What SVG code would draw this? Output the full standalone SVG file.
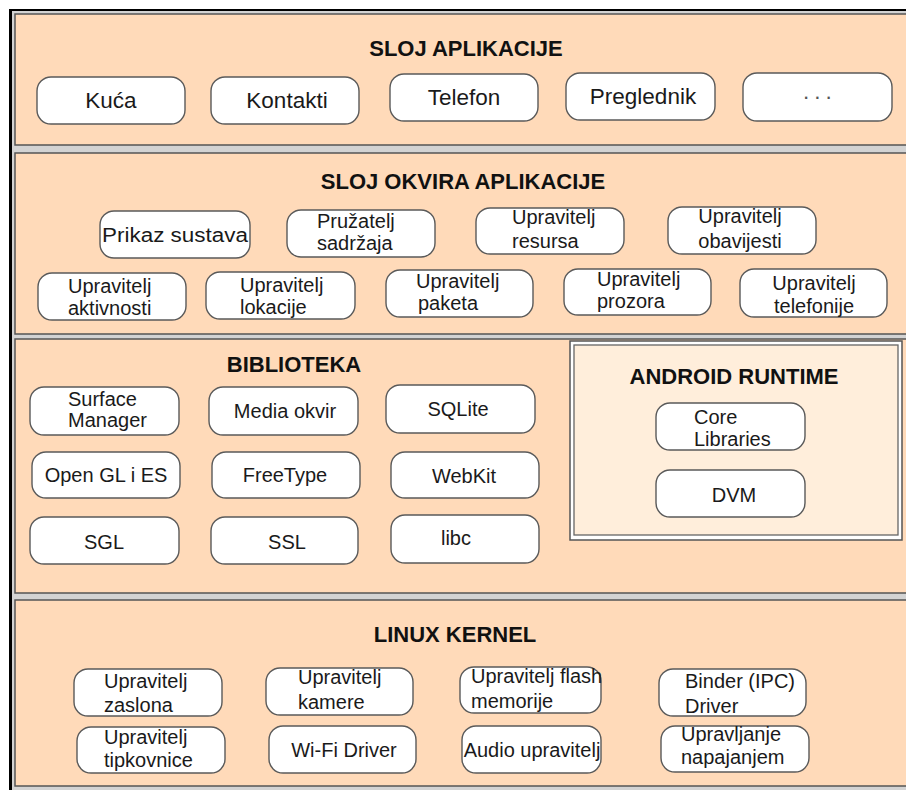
<svg xmlns="http://www.w3.org/2000/svg" width="906" height="790" viewBox="0 0 906 790">
<style>
.panel{fill:#FFDAB9;stroke:#555;stroke-width:1.5}
.box{fill:#fff;stroke:#5a5a5a;stroke-width:1.4}
.t{font-family:"Liberation Sans",Arial,sans-serif;font-size:20px;fill:#1a1a1a}
.a{font-size:22.5px}
.m{text-anchor:middle}
.h{font-family:"Liberation Sans",Arial,sans-serif;font-weight:bold;font-size:22px;text-anchor:middle;fill:#111}
</style>
<rect x="0" y="0" width="906" height="790" fill="#fff"/>
<rect x="9" y="9" width="897" height="781" fill="#d3d3d3"/>
<line x1="9" y1="10" x2="906" y2="10" stroke="#000" stroke-width="2"/>
<line x1="10.5" y1="9" x2="10.5" y2="790" stroke="#000" stroke-width="3"/>

<g id="layer-app">
<rect class="panel" x="15" y="14" width="900" height="131"/>
<text class="h" x="466" y="56">SLOJ APLIKACIJE</text>
</g>
<g id="kuca"><rect class="box" x="37" y="77" width="148" height="47" rx="14"/><text class="t a m" x="111" y="108">Kuća</text></g>
<g id="kontakti"><rect class="box" x="211" y="77" width="148" height="47" rx="14"/><text class="t a m" x="287" y="108">Kontakti</text></g>
<g id="telefon"><rect class="box" x="390" y="74" width="148" height="47" rx="14"/><text class="t a m" x="464" y="105">Telefon</text></g>
<g id="preglednik"><rect class="box" x="566" y="73" width="149" height="47" rx="14"/><text class="t a m" x="643" y="104">Preglednik</text></g>
<g id="more"><rect class="box" x="743" y="73" width="149" height="48" rx="14"/><text class="t a m" x="820" y="99" style="letter-spacing:5px;fill:#555">...</text></g>

<g id="layer-framework">
<rect class="panel" x="15" y="153" width="900" height="181"/>
<text class="h" x="463" y="189">SLOJ OKVIRA APLIKACIJE</text>
</g>
<g id="prikaz"><rect class="box" x="100" y="211" width="150" height="47" rx="14"/><text class="t" x="102" y="242" textLength="146" lengthAdjust="spacingAndGlyphs">Prikaz sustava</text></g>
<g id="pruzatelj"><rect class="box" x="287" y="210" width="148" height="47" rx="14"/><text class="t"><tspan x="317" y="228">Pružatelj</tspan><tspan x="317" y="250">sadržaja</tspan></text></g>
<g id="resursi"><rect class="box" x="476" y="208" width="148" height="46" rx="14"/><text class="t"><tspan x="512" y="224">Upravitelj</tspan><tspan x="512" y="248">resursa</tspan></text></g>
<g id="obavijesti"><rect class="box" x="668" y="207" width="148" height="47" rx="14"/><text class="t m"><tspan x="740" y="223">Upravitelj</tspan><tspan x="740" y="248">obavijesti</tspan></text></g>
<g id="aktivnosti"><rect class="box" x="38" y="273" width="148" height="47" rx="14"/><text class="t"><tspan x="68" y="293">Upravitelj</tspan><tspan x="68" y="315">aktivnosti</tspan></text></g>
<g id="lokacije"><rect class="box" x="206" y="272" width="149" height="47" rx="14"/><text class="t"><tspan x="240" y="292">Upravitelj</tspan><tspan x="240" y="314">lokacije</tspan></text></g>
<g id="paketi"><rect class="box" x="386" y="270" width="147" height="47" rx="14"/><text class="t"><tspan x="416" y="288">Upravitelj</tspan><tspan x="418" y="310">paketa</tspan></text></g>
<g id="prozori"><rect class="box" x="564" y="269" width="147" height="46" rx="14"/><text class="t"><tspan x="597" y="286">Upravitelj</tspan><tspan x="597" y="308">prozora</tspan></text></g>
<g id="telefonija"><rect class="box" x="740" y="269" width="147" height="48" rx="14"/><text class="t m"><tspan x="814" y="290">Upravitelj</tspan><tspan x="814" y="313">telefonije</tspan></text></g>

<g id="layer-libraries">
<rect class="panel" x="15" y="339" width="900" height="254"/>
<text class="h" x="294" y="372">BIBLIOTEKA</text>
</g>
<g id="surface"><rect class="box" x="30" y="387" width="149" height="48" rx="14"/><text class="t"><tspan x="68" y="406">Surface</tspan><tspan x="68" y="427">Manager</tspan></text></g>
<g id="media"><rect class="box" x="209" y="387" width="149" height="48" rx="14"/><text class="t m" x="285" y="418">Media okvir</text></g>
<g id="sqlite"><rect class="box" x="386" y="385" width="149" height="48" rx="14"/><text class="t m" x="458" y="416">SQLite</text></g>
<g id="opengl"><rect class="box" x="32" y="452" width="148" height="46" rx="14"/><text class="t m" x="106" y="482">Open GL i ES</text></g>
<g id="freetype"><rect class="box" x="212" y="452" width="148" height="46" rx="14"/><text class="t m" x="285" y="482">FreeType</text></g>
<g id="webkit"><rect class="box" x="391" y="452" width="148" height="46" rx="14"/><text class="t m" x="464" y="483">WebKit</text></g>
<g id="sgl"><rect class="box" x="30" y="517" width="149" height="47" rx="14"/><text class="t m" x="104" y="549">SGL</text></g>
<g id="ssl"><rect class="box" x="211" y="517" width="147" height="47" rx="14"/><text class="t m" x="287" y="549">SSL</text></g>
<g id="libc"><rect class="box" x="391" y="515" width="148" height="48" rx="14"/><text class="t m" x="456" y="545">libc</text></g>

<g id="android-runtime">
<rect x="570" y="341" width="332" height="199" fill="#fff" stroke="#555" stroke-width="1.5"/>
<rect x="574" y="345" width="324" height="190" fill="#FFEEDB" stroke="#666" stroke-width="1.3"/>
<text class="h" x="734" y="384">ANDROID RUNTIME</text>
</g>
<g id="core-libraries"><rect class="box" x="656" y="403" width="149" height="47" rx="14"/><text class="t"><tspan x="694" y="424">Core</tspan><tspan x="694" y="446">Libraries</tspan></text></g>
<g id="dvm"><rect class="box" x="656" y="470" width="149" height="47" rx="14"/><text class="t m" x="734" y="502">DVM</text></g>

<g id="layer-kernel">
<rect class="panel" x="15" y="600" width="900" height="186"/>
<text class="h" x="455" y="642">LINUX KERNEL</text>
</g>
<g id="zaslon"><rect class="box" x="74" y="669" width="148" height="47" rx="14"/><text class="t"><tspan x="104" y="688">Upravitelj</tspan><tspan x="104" y="712">zaslona</tspan></text></g>
<g id="kamera"><rect class="box" x="266" y="668" width="147" height="47" rx="14"/><text class="t"><tspan x="298" y="684">Upravitelj</tspan><tspan x="298" y="709">kamere</tspan></text></g>
<g id="flash"><rect class="box" x="460" y="667" width="141" height="46" rx="14"/><text class="t"><tspan x="471" y="683">Upravitelj flash</tspan><tspan x="471" y="708">memorije</tspan></text></g>
<g id="binder"><rect class="box" x="659" y="669" width="147" height="47" rx="14"/><text class="t"><tspan x="685" y="688">Binder (IPC)</tspan><tspan x="685" y="713">Driver</tspan></text></g>
<g id="tipkovnica"><rect class="box" x="77" y="727" width="148" height="46" rx="14"/><text class="t"><tspan x="104" y="744">Upravitelj</tspan><tspan x="104" y="767">tipkovnice</tspan></text></g>
<g id="wifi"><rect class="box" x="269" y="726" width="147" height="47" rx="14"/><text class="t m" x="344" y="757">Wi-Fi Driver</text></g>
<g id="audio"><rect class="box" x="462" y="726" width="139" height="47" rx="14"/><text class="t m" x="532" y="757">Audio upravitelj</text></g>
<g id="napajanje"><rect class="box" x="661" y="726" width="148" height="46" rx="14"/><text class="t"><tspan x="681" y="741">Upravljanje</tspan><tspan x="681" y="764">napajanjem</tspan></text></g>
</svg>
